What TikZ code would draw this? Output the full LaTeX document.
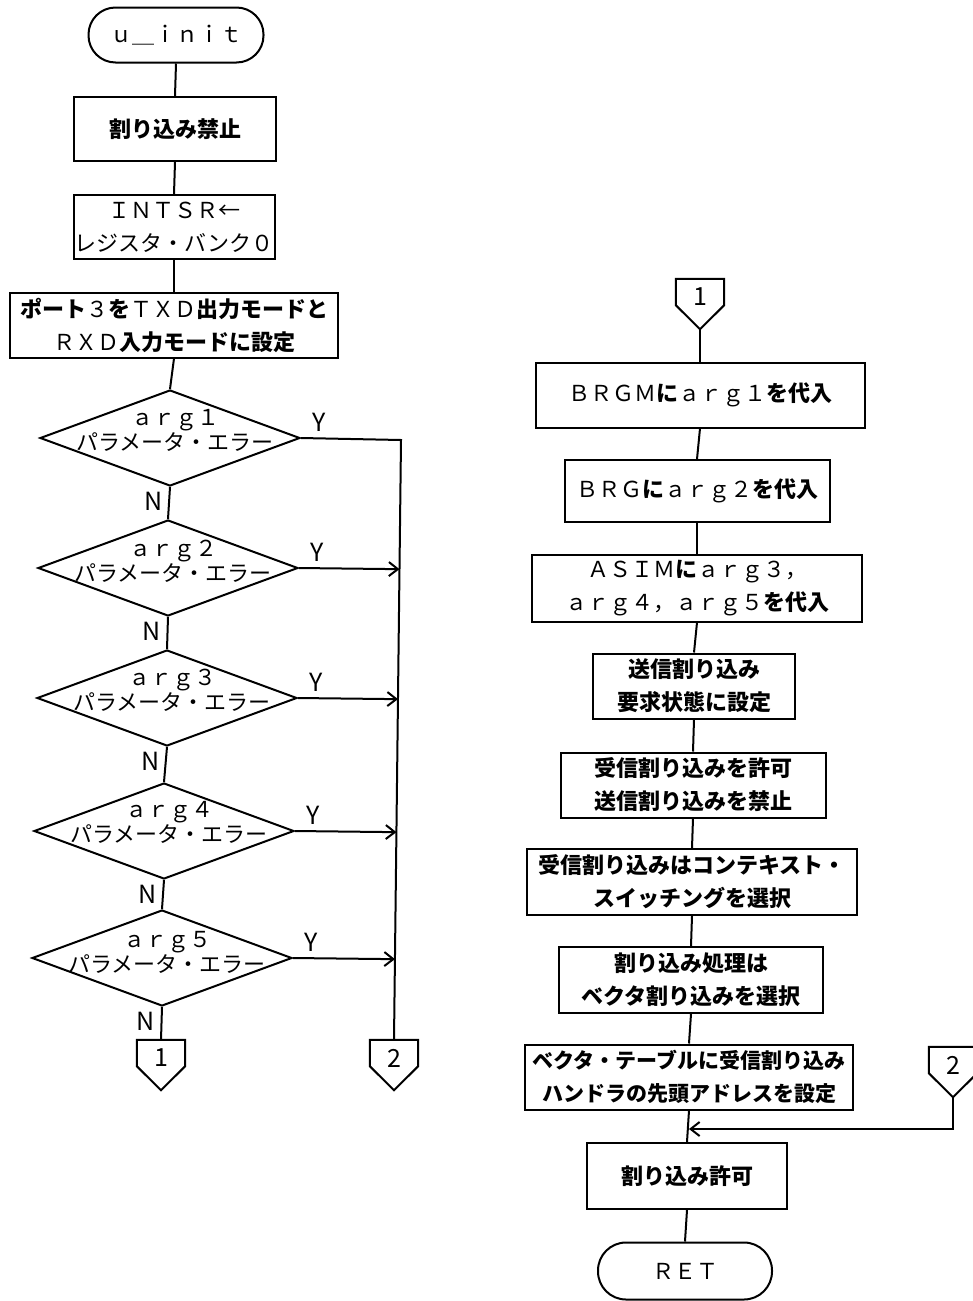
\documentclass[tikz,border=0pt]{standalone}
\usepackage{fontspec}
\newfontfamily\jp{Noto Sans CJK JP}
\usetikzlibrary{calc,arrows.meta,shapes.geometric}
\newcommand\fsbox{\fontsize{22pt}{33pt}\selectfont}
\newcommand\fsdia{\fontsize{22pt}{25pt}\selectfont}
\newcommand\lat[1]{{\mdseries #1}}
\tikzset{
  ln/.style={line width=2pt},
  box/.style={draw, line width=2pt, inner sep=0pt, align=center, font=\jp\fsbox\bfseries},
  boxl/.style={box, font=\jp\fsbox},
  term/.style={draw, line width=2pt, rounded corners=27pt, inner sep=0pt, font=\jp\fsbox},
  dia/.style={draw, diamond, line width=2pt, inner sep=0pt, minimum width=260pt, minimum height=96pt},
  dtext/.style={inner sep=0pt, align=center, font=\jp\fsdia},
  yn/.style={inner sep=0pt, font=\jp\fontsize{25pt}{25pt}\selectfont},
  conn/.style={inner sep=0pt, minimum width=48pt, minimum height=26pt, font=\jp\fontsize{25pt}{25pt}\selectfont},
  arr/.style={ln, -{Straight Barb[length=9pt,width=14pt,line width=2pt]}},
}
\begin{document}
\begin{tikzpicture}[x=1pt,y=-1pt]
\fill[white] (0,0) rectangle (972,1301);
\useasboundingbox (0,0) rectangle (972,1301);
% ---------- left column ----------
\node[term, minimum width=175pt, minimum height=55pt] (s0) at (176,35) {ｕ＿ｉｎｉｔ};
\node[box, minimum width=202pt, minimum height=64pt] (b1) at (175,129) {割り込み禁止};
\node[boxl, minimum width=201pt, minimum height=64pt] (b2) at (174,227) {ＩＮＴＳＲ←\\レジスタ・バンク０};
\node[box, minimum width=328pt, minimum height=65pt] (b3) at (174,325) {ポート\lat{３}を\lat{ＴＸＤ}出力モードと\\\lat{ＲＸＤ}入力モードに設定};
\node[dia] (d1) at (170,438) {};
\node[dia] (d2) at (168,568) {};
\node[dia] (d3) at (167,698) {};
\node[dia] (d4) at (164,831) {};
\node[dia] (d5) at (162,958) {};
\node[dtext] (d1t) at ($(d1)+(5,-8)$) {ａｒｇ１\\パラメータ・エラー};
\node[dtext] (d2t) at ($(d2)+(5,-7)$) {ａｒｇ２\\パラメータ・エラー};
\node[dtext] (d3t) at ($(d3)+(5,-8)$) {ａｒｇ３\\パラメータ・エラー};
\node[dtext] (d4t) at ($(d4)+(5,-9)$) {ａｒｇ４\\パラメータ・エラー};
\node[dtext] (d5t) at ($(d5)+(5,-6)$) {ａｒｇ５\\パラメータ・エラー};
\foreach \d in {d1,d2,d3,d4,d5}{
  \node[yn] (\d y) at ($(\d.east)+(18,-16)$) {Y};
  \node[yn] (\d n) at ($(\d.south)+(-16,14)$) {N};
}
\node[conn] (c1) at (161,1053) {\raisebox{-5pt}[\height][\depth]{1}};
\node[conn] (c2) at (394,1053) {\raisebox{-5pt}[\height][\depth]{2}};
% ---------- right column ----------
\node[conn] (c1r) at (700,292) {\raisebox{-5pt}[\height][\depth]{1}};
\node[box, minimum width=329pt, minimum height=65pt] (r1) at (700,395) {\lat{ＢＲＧＭ}に\lat{ａｒｇ１}を代入};
\node[box, minimum width=265pt, minimum height=62pt] (r2) at (697,491) {\lat{ＢＲＧ}に\lat{ａｒｇ２}を代入};
\node[box, minimum width=330pt, minimum height=67pt] (r3) at (697,588) {\lat{ＡＳＩＭ}に\lat{ａｒｇ３，}\\\lat{ａｒｇ４，ａｒｇ５}を代入};
\node[box, minimum width=202pt, minimum height=65pt] (r4) at (694,686) {送信割り込み\\要求状態に設定};
\node[box, minimum width=265pt, minimum height=65pt] (r5) at (693,785) {受信割り込みを許可\\送信割り込みを禁止};
\node[box, minimum width=330pt, minimum height=66pt] (r6) at (692,882) {受信割り込みはコンテキスト・\\スイッチングを選択};
\node[box, minimum width=264pt, minimum height=66pt] (r7) at (691,980) {割り込み処理は\\ベクタ割り込みを選択};
\node[box, minimum width=328pt, minimum height=65pt, font=\jp\fontsize{21pt}{33pt}\selectfont\bfseries] (r8) at (689,1077) {ベクタ・テーブルに受信割り込み\\ハンドラの先頭アドレスを設定};
\node[box, minimum width=200pt, minimum height=66pt] (r9) at (687,1176) {割り込み許可};
\node[term, minimum width=174pt, minimum height=57pt, rounded corners=28pt] (r10) at (685,1271) {ＲＥＴ};
\node[conn] (c2r) at (953,1060) {\raisebox{-5pt}[\height][\depth]{2}};
% ---------- connector shapes ----------
\foreach \c in {c1,c2,c1r,c2r}{
  \draw[ln, line join=miter] (\c.north west) -- (\c.north east) -- (\c.south east)
     -- ($(\c.south)+(0,24)$) -- (\c.south west) -- cycle;
  \coordinate (\c t) at ($(\c.south)+(0,24)$);
}
% ---------- connectors left ----------
\draw[ln] (s0.south) -- (b1.north);
\draw[ln] (b1.south) -- (b2.north);
\draw[ln] (b2.south) -- (b3.north);
\draw[ln] (b3.south) -- (d1.north);
\draw[ln] (d1.south) -- (d2.north);
\draw[ln] (d2.south) -- (d3.north);
\draw[ln] (d3.south) -- (d4.north);
\draw[ln] (d4.south) -- (d5.north);
\draw[ln] (d5.south) -- (c1.north);
\coordinate (vt) at (401,440);
\draw[ln] (d1.east) -- (vt) -- (c2.north);
\foreach \d in {d2,d3,d4,d5}{
  \draw[arr] (\d.east) -- ($(vt)!(\d.east)!(c2.north)$);
}
% ---------- connectors right ----------
\draw[ln] (c1rt) -- (r1.north);
\draw[ln] (r1.south) -- (r2.north);
\draw[ln] (r2.south) -- (r3.north);
\draw[ln] (r3.south) -- (r4.north);
\draw[ln] (r4.south) -- (r5.north);
\draw[ln] (r5.south) -- (r6.north);
\draw[ln] (r6.south) -- (r7.north);
\draw[ln] (r7.south) -- (r8.north);
\draw[ln] (r8.south) -- (r9.north);
\draw[ln] (r9.south) -- (r10.north);
\coordinate (jc) at (953,1129);
\coordinate (jm) at (689,1129);
\draw[arr] (c2rt) -- (jc) -- (jm);
\end{tikzpicture}
\end{document}
